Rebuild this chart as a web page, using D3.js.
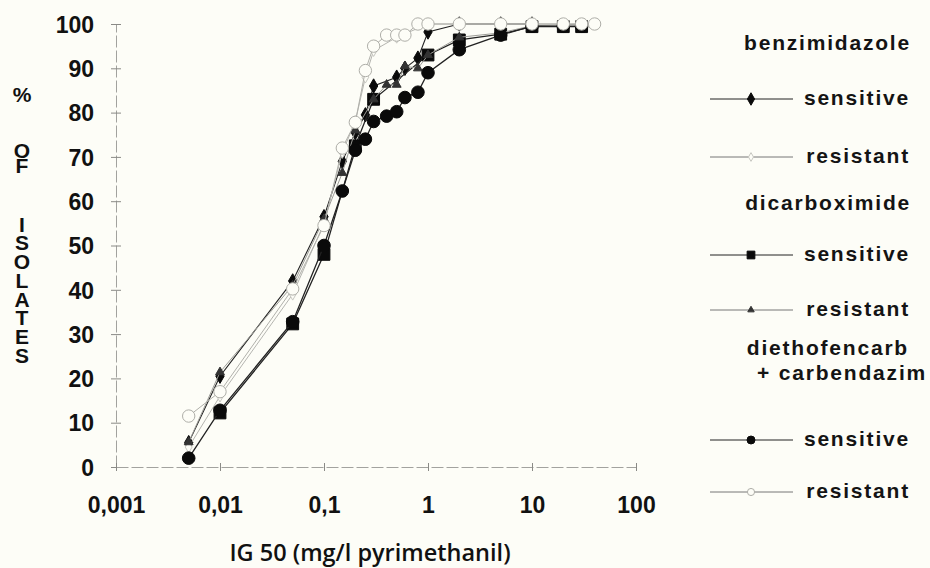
<!DOCTYPE html>
<html>
<head>
<meta charset="utf-8">
<script src="https://cdn.jsdelivr.net/npm/d3@7"></script>
<style>
  html, body { margin: 0; padding: 0; background: #fdfdf7; }
  svg { display: block; }
  .tick-label { font-family: "Liberation Sans", Arial, sans-serif; font-weight: bold; font-size: 23px; fill: #111; }
  .title { font-family: "Open Sans", "Liberation Sans", sans-serif; font-weight: 600; fill: #111; }
  .leg { font-family: "Liberation Sans", Arial, sans-serif; font-weight: bold; font-size: 21px; letter-spacing: 1.8px; fill: #141414; }
  .vtitle { font-family: "Liberation Sans", Arial, sans-serif; font-weight: bold; font-size: 21px; fill: #111;
            writing-mode: vertical-rl; text-orientation: upright; }
</style>
</head>
<body>
<svg id="chart" width="930" height="568"></svg>
<script>
// IG50 of pyrimethanil (mg/l) and cumulative % of isolates per fungicide group
const yTicks = [0, 10, 20, 30, 40, 50, 60, 70, 80, 90, 100];
const xTicks = [0.001, 0.01, 0.1, 1, 10, 100];
const xTickLabels = ["0,001", "0,01", "0,1", "1", "10", "100"];

// benzimidazole - sensitive
const benzSensConc = [0.005, 0.01, 0.05, 0.1, 0.15, 0.2, 0.25, 0.3, 0.5, 0.6, 0.8, 1, 2, 5, 10];
const benzSensPct  = [5.5, 20.5, 42, 56.5, 69, 75.5, 79.5, 86, 88, 90, 92.3, 98.2, 100, 100, 100];
// benzimidazole - resistant
const benzResConc = [0.005, 0.01, 0.05, 0.1, 0.15, 0.2, 0.25, 0.3, 0.5, 1, 2, 5, 10, 20, 40];
const benzResPct  = [4.5, 16, 39, 55, 71, 78, 88, 94, 97, 100, 100, 100, 100, 100, 100];
// dicarboximide - sensitive
const dicSensConc = [0.01, 0.05, 0.1, 0.2, 0.3, 1, 2, 5, 10, 20, 30];
const dicSensPct  = [12.2, 32.3, 48, 72.5, 83, 93, 96.4, 97.7, 99.4, 99.4, 99.4];
// dicarboximide - resistant
const dicResConc = [0.005, 0.01, 0.05, 0.1, 0.15, 0.2, 0.3, 0.4, 0.5, 0.6, 0.8, 1, 2, 5, 10, 20, 30];
const dicResPct  = [5.6, 21.4, 41, 56, 66.4, 76, 83, 86.3, 86.3, 90.5, 90, 93, 97, 98, 99.6, 99.8, 100];
// diethofencarb + carbendazim - sensitive
const dietSensConc = [0.005, 0.01, 0.05, 0.1, 0.15, 0.2, 0.25, 0.3, 0.4, 0.5, 0.6, 0.8, 1, 2, 5, 10, 20, 30];
const dietSensPct  = [2, 12.8, 32.8, 50, 62.3, 71.5, 74, 78, 79.2, 80.2, 83.4, 84.6, 89, 94.2, 97.5, 99.5, 99.5, 99.5];
// diethofencarb + carbendazim - resistant
const dietResConc = [0.005, 0.01, 0.05, 0.1, 0.15, 0.2, 0.25, 0.3, 0.4, 0.5, 0.6, 0.8, 1, 2, 5, 10, 20, 30, 40];
const dietResPct  = [11.5, 17, 40.2, 54.5, 72, 77.8, 89.5, 95, 97.5, 97.5, 97.5, 100, 100, 100, 100, 100, 100, 100, 100];

const svg = d3.select("#chart");
const x = d3.scaleLog().domain([0.001, 100]).range([116, 636]);
const y = d3.scaleLinear().domain([0, 100]).range([467, 24]);

// axes with crossing ticks
const yAxis = svg.append("g").attr("transform", `translate(${x(0.001)},0)`)
  .call(d3.axisLeft(y).tickValues(yTicks).tickSize(0).tickFormat(""));
yAxis.select(".domain").attr("stroke", "#a2a29e").attr("stroke-dasharray", "12,3");
yAxis.selectAll(".tick").append("line").attr("x1", -5).attr("x2", 5).attr("stroke", "#8a8a86");
yAxis.selectAll(".tick").append("text").attr("class", "tick-label")
  .attr("x", -22).attr("dy", "0.36em").attr("text-anchor", "end")
  .text(d => d);

const xAxis = svg.append("g").attr("transform", `translate(0,${y(0)})`)
  .call(d3.axisBottom(x).tickValues(xTicks).tickSize(0).tickFormat(""));
xAxis.select(".domain").attr("stroke", "#a2a29e").attr("stroke-dasharray", "12,3");
xAxis.selectAll(".tick").append("line").attr("y1", -4).attr("y2", 4).attr("stroke", "#8a8a86");
xAxis.selectAll(".tick").append("text").attr("class", "tick-label")
  .attr("y", 46).attr("text-anchor", "middle")
  .text((d, i) => xTickLabels[i]);

// axis titles
svg.append("text").attr("class", "title").attr("x", 370).attr("y", 561)
  .attr("text-anchor", "middle").style("font-size", "23.5px").text("IG 50 (mg/l pyrimethanil)");

// stacked upright y title; textLength keeps each letter on a 19.3px pitch
[["%", 83], ["OF", 138.5], ["ISOLATES", 212.5]].forEach(([t, top]) => {
  const el = svg.append("text").attr("class", "vtitle").attr("x", 22).attr("y", top).text(t);
  if (t.length > 1) el.attr("textLength", t.length * 19.3).attr("lengthAdjust", "spacing");
});

// series in plotting order: later series sit on top
const series = [
  { conc: benzSensConc, pct: benzSensPct, line: "#222", lw: 1.1, sym: d3.symbolDiamond, size: 60, fill: "#0a0a0a", stroke: "#0a0a0a", leg: 45 },
  { conc: benzResConc, pct: benzResPct, line: "#b5b5b0", lw: 1, sym: d3.symbolDiamond, size: 40, fill: "#fdfdf7", stroke: "#c8c8c2", leg: 22 },
  { conc: dicSensConc, pct: dicSensPct, line: "#222", lw: 1.3, sym: d3.symbolSquare, size: 140, fill: "#0a0a0a", stroke: "#0a0a0a", leg: 60 },
  { conc: dicResConc, pct: dicResPct, line: "#9d9d98", lw: 1, sym: d3.symbolTriangle, size: 34, fill: "#333", stroke: "#333", leg: 18 },
  { conc: dietSensConc, pct: dietSensPct, line: "#222", lw: 1.3, sym: d3.symbolCircle, size: 125, fill: "#0a0a0a", stroke: "#0a0a0a", leg: 50 },
  { conc: dietResConc, pct: dietResPct, line: "#b0b0aa", lw: 1, sym: d3.symbolCircle, size: 120, fill: "#fdfdf7", stroke: "#aeaea8", leg: 40 }
];

const line = d3.line().x(d => x(d[0])).y(d => y(d[1]));
series.forEach(s => {
  const pts = s.conc.map((c, i) => [c, s.pct[i]]);
  const g = svg.append("g");
  g.append("path").datum(pts).attr("d", line)
    .attr("fill", "none").attr("stroke", s.line).attr("stroke-width", s.lw);
  g.selectAll(".mk").data(pts).join("path").attr("class", "mk")
    .attr("transform", d => `translate(${x(d[0])},${y(d[1])})`)
    .attr("d", d3.symbol(s.sym, s.size))
    .attr("fill", s.fill).attr("stroke", s.stroke).attr("stroke-width", 1);
});

// legend
const legend = svg.append("g");
const legendHeads = [["benzimidazole", 911, 42], ["dicarboximide", 911, 202],
                     ["diethofencarb", 909, 347.5], ["+ carbendazim", 927, 372.5]];
legendHeads.forEach(([t, xx, yy]) => {
  legend.append("text").attr("class", "leg").attr("x", xx).attr("y", yy)
    .attr("dy", "0.36em").attr("text-anchor", "end").text(t);
});

const legendRows = [
  [series[0], "sensitive", 99],
  [series[1], "resistant", 157],
  [series[2], "sensitive", 255],
  [series[3], "resistant", 310],
  [series[4], "sensitive", 440],
  [series[5], "resistant", 492]
];
legendRows.forEach(([s, label, yy]) => {
  legend.append("line").attr("x1", 710).attr("x2", 793).attr("y1", yy).attr("y2", yy)
    .attr("stroke", s.lw > 1 ? "#222" : "#777").attr("stroke-width", 1);
  legend.append("path").attr("transform", `translate(751,${yy})`)
    .attr("d", d3.symbol(s.sym, s.leg)).attr("fill", s.fill).attr("stroke", s.stroke);
  legend.append("text").attr("class", "leg").attr("x", 910).attr("y", yy)
    .attr("dy", "0.3em").attr("text-anchor", "end").text(label);
});
</script>
</body>
</html>
